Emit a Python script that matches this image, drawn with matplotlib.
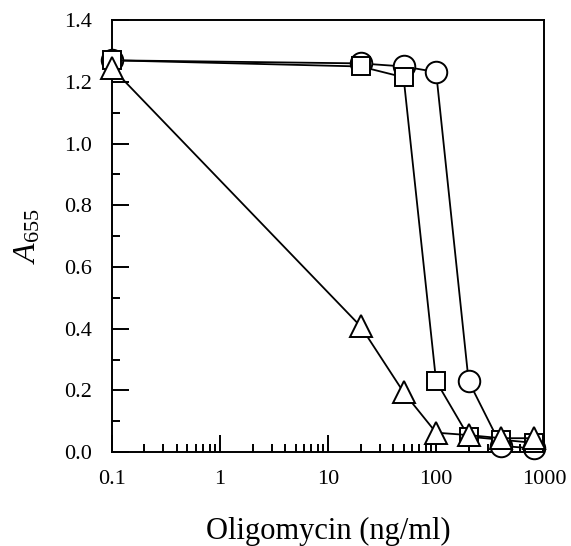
import matplotlib
matplotlib.use("Agg")
import matplotlib.pyplot as plt
from matplotlib.ticker import MultipleLocator, LogLocator

plt.rcParams['font.family'] = ['Liberation Serif', 'DejaVu Serif']
plt.rcParams['mathtext.fontset'] = 'custom'
plt.rcParams['mathtext.rm'] = 'Liberation Serif'
plt.rcParams['mathtext.it'] = 'Liberation Serif:italic'

conc = [0.1, 20, 50, 100, 200, 400, 800]
circle_vals = [1.27, 1.26, 1.25, 1.232, 0.23, 0.02, 0.012]
square_vals = [1.27, 1.25, 1.215, 0.23, 0.05, 0.04, 0.03]
triangle_vals = [1.245, 0.408, 0.194, 0.063, 0.055, 0.045, 0.045]

xticks = [0.1, 1, 10, 100, 1000]
xticklabels = ["0.1", "1", "10", "100", "1000"]
yticks = [0.0, 0.2, 0.4, 0.6, 0.8, 1.0, 1.2, 1.4]

fig = plt.figure(figsize=(5.71, 5.46), dpi=100)
ax = fig.add_axes([0.196, 0.172, 0.757, 0.791])

kw = dict(color='black', lw=1.3, markerfacecolor='white', markeredgecolor='black', markeredgewidth=1.4, clip_on=False)
ax.plot(conc, circle_vals, marker='o', markersize=15.5, zorder=3, **kw)
ax.plot(conc, square_vals, marker='s', markersize=13.5, zorder=4, **kw)
ax.plot(conc, triangle_vals, marker='^', markersize=16.5, zorder=5, **kw)

ax.set_xscale('log')
ax.set_xlim(0.1, 1000)
ax.set_ylim(0, 1.4)
ax.set_xticks(xticks)
ax.set_xticklabels(xticklabels)
ax.xaxis.set_minor_locator(LogLocator(base=10, subs=range(2, 10)))
ax.set_yticks(yticks)
ax.set_yticklabels([f"{v:.1f}" for v in yticks])
ax.yaxis.set_minor_locator(MultipleLocator(0.1))

ax.tick_params(which='both', direction='in', top=False, right=False, labelsize=16, width=1.4)
ax.tick_params(which='major', length=12)
ax.tick_params(which='minor', length=6)
ax.tick_params(axis='x', which='major', pad=13)
ax.tick_params(axis='y', which='major', pad=14)
for s in ax.spines.values():
    s.set_linewidth(1.4)

ax.set_xlabel("Oligomycin (ng/ml)", fontsize=22, labelpad=20)
ax.set_ylabel(r"$\mathit{A}_{655}$", fontsize=23, labelpad=16)

fig.savefig("out.png", dpi=100)
